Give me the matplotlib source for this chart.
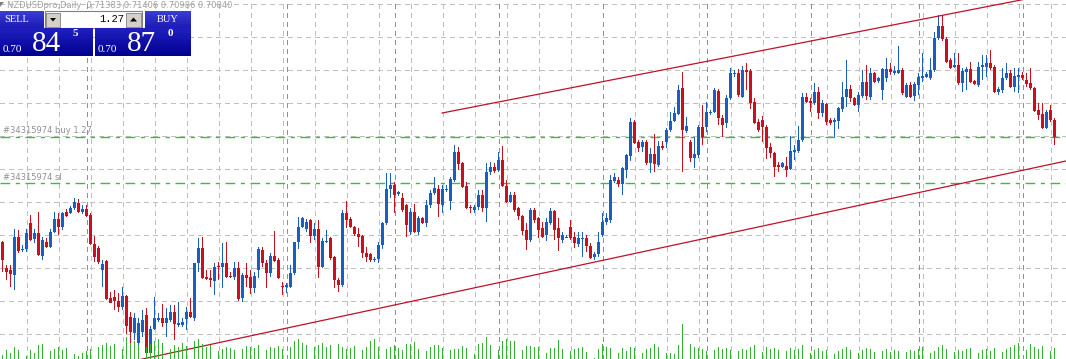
import matplotlib
matplotlib.use("Agg")
import matplotlib.pyplot as plt
import numpy as np
from matplotlib.patches import Rectangle, Polygon
from matplotlib.colors import LinearSegmentedColormap

# NZDUSD daily bars, oldest first
opens = [0.6775, 0.6697, 0.6690, 0.6675, 0.6790, 0.6749, 0.6753, 0.6831, 0.6783, 0.6801,
         0.6732, 0.6774, 0.6759, 0.6804, 0.6843, 0.6819, 0.6864, 0.6861, 0.6876, 0.6891,
         0.6864, 0.6873, 0.6855, 0.6768, 0.6756, 0.6690, 0.6717, 0.6606, 0.6609, 0.6597,
         0.6579, 0.6612, 0.6549, 0.6501, 0.6471, 0.6504, 0.6555, 0.6441, 0.6513, 0.6540,
         0.6546, 0.6531, 0.6540, 0.6564, 0.6525, 0.6525, 0.6543, 0.6564, 0.6546, 0.6711,
         0.6756, 0.6669, 0.6666, 0.6657, 0.6702, 0.6699, 0.6711, 0.6672, 0.6669, 0.6696,
         0.6606, 0.6675, 0.6669, 0.6636, 0.6690, 0.6750, 0.6711, 0.6681, 0.6732, 0.6720,
         0.6642, 0.6639, 0.6639, 0.6681, 0.6774, 0.6819, 0.6813, 0.6840, 0.6792, 0.6813,
         0.6699, 0.6774, 0.6786, 0.6729, 0.6660, 0.6645, 0.6861, 0.6843, 0.6819, 0.6798,
         0.6792, 0.6741, 0.6738, 0.6720, 0.6723, 0.6765, 0.6831, 0.6933, 0.6945, 0.6918,
         0.6906, 0.6885, 0.6804, 0.6864, 0.6804, 0.6846, 0.6831, 0.6885, 0.6921, 0.6933,
         0.6885, 0.6930, 0.6897, 0.6960, 0.7044, 0.7011, 0.6942, 0.6879, 0.6870, 0.6879,
         0.6915, 0.6876, 0.6984, 0.6999, 0.6990, 0.7020, 0.6942, 0.6894, 0.6915, 0.6876,
         0.6852, 0.6810, 0.6780, 0.6870, 0.6846, 0.6816, 0.6795, 0.6831, 0.6867, 0.6816,
         0.6780, 0.6786, 0.6819, 0.6789, 0.6768, 0.6783, 0.6786, 0.6762, 0.6729, 0.6738,
         0.6795, 0.6834, 0.6840, 0.6957, 0.6960, 0.6948, 0.6990, 0.7032, 0.7134, 0.7074,
         0.7059, 0.7074, 0.7011, 0.7038, 0.7005, 0.7062, 0.7074, 0.7110, 0.7137, 0.7158,
         0.7236, 0.7107, 0.7074, 0.7026, 0.7035, 0.7119, 0.7119, 0.7161, 0.7164, 0.7227,
         0.7146, 0.7131, 0.7206, 0.7278, 0.7281, 0.7209, 0.7290, 0.7287, 0.7194, 0.7134,
         0.7140, 0.7119, 0.7059, 0.7041, 0.7005, 0.6999, 0.7002, 0.6993, 0.7044, 0.7047,
         0.7080, 0.7209, 0.7197, 0.7191, 0.7224, 0.7161, 0.7188, 0.7140, 0.7134, 0.7137,
         0.7173, 0.7209, 0.7233, 0.7206, 0.7185, 0.7212, 0.7254, 0.7209, 0.7281, 0.7257,
         0.7230, 0.7266, 0.7293, 0.7281, 0.7281, 0.7290, 0.7209, 0.7245, 0.7212, 0.7245,
         0.7266, 0.7269, 0.7266, 0.7290, 0.7386, 0.7422, 0.7383, 0.7320, 0.7299, 0.7305,
         0.7251, 0.7284, 0.7293, 0.7257, 0.7245, 0.7299, 0.7299, 0.7311, 0.7299, 0.7224,
         0.7230, 0.7266, 0.7281, 0.7239, 0.7269, 0.7275, 0.7260, 0.7251, 0.7236, 0.7170,
         0.7158, 0.7116, 0.7170, 0.7140]
highs = [0.6777, 0.6705, 0.6705, 0.6813, 0.6810, 0.6765, 0.6813, 0.6855, 0.6813, 0.6864,
         0.6789, 0.6786, 0.6813, 0.6864, 0.6861, 0.6864, 0.6873, 0.6882, 0.6906, 0.6903,
         0.6885, 0.6885, 0.6861, 0.6792, 0.6762, 0.6720, 0.6720, 0.6624, 0.6630, 0.6621,
         0.6639, 0.6615, 0.6564, 0.6561, 0.6546, 0.6570, 0.6576, 0.6522, 0.6609, 0.6561,
         0.6588, 0.6576, 0.6585, 0.6585, 0.6594, 0.6546, 0.6579, 0.6606, 0.6711, 0.6786,
         0.6789, 0.6690, 0.6690, 0.6711, 0.6714, 0.6771, 0.6774, 0.6684, 0.6714, 0.6714,
         0.6681, 0.6711, 0.6690, 0.6684, 0.6759, 0.6759, 0.6720, 0.6741, 0.6807, 0.6726,
         0.6654, 0.6651, 0.6705, 0.6774, 0.6849, 0.6849, 0.6843, 0.6843, 0.6831, 0.6840,
         0.6786, 0.6810, 0.6789, 0.6732, 0.6666, 0.6870, 0.6897, 0.6849, 0.6822, 0.6816,
         0.6795, 0.6759, 0.6741, 0.6729, 0.6774, 0.6834, 0.6981, 0.6981, 0.6954, 0.6927,
         0.6921, 0.6888, 0.6876, 0.6888, 0.6852, 0.6849, 0.6900, 0.6930, 0.6969, 0.6945,
         0.6945, 0.6945, 0.6969, 0.7065, 0.7059, 0.7014, 0.6954, 0.6885, 0.6885, 0.6930,
         0.6930, 0.7011, 0.7014, 0.7011, 0.7044, 0.7062, 0.6960, 0.6924, 0.6924, 0.6879,
         0.6855, 0.6831, 0.6876, 0.6876, 0.6849, 0.6834, 0.6846, 0.6876, 0.6870, 0.6846,
         0.6804, 0.6795, 0.6840, 0.6804, 0.6804, 0.6804, 0.6795, 0.6771, 0.6744, 0.6804,
         0.6861, 0.6861, 0.6975, 0.6981, 0.6969, 0.6999, 0.7038, 0.7146, 0.7140, 0.7080,
         0.7080, 0.7080, 0.7056, 0.7098, 0.7077, 0.7077, 0.7116, 0.7164, 0.7179, 0.7245,
         0.7284, 0.7149, 0.7080, 0.7089, 0.7125, 0.7185, 0.7194, 0.7170, 0.7236, 0.7233,
         0.7155, 0.7215, 0.7296, 0.7290, 0.7293, 0.7302, 0.7311, 0.7293, 0.7206, 0.7143,
         0.7152, 0.7125, 0.7071, 0.7044, 0.7014, 0.7014, 0.7029, 0.7092, 0.7065, 0.7122,
         0.7221, 0.7221, 0.7206, 0.7251, 0.7239, 0.7200, 0.7191, 0.7146, 0.7146, 0.7179,
         0.7254, 0.7320, 0.7245, 0.7209, 0.7224, 0.7290, 0.7305, 0.7296, 0.7284, 0.7269,
         0.7296, 0.7326, 0.7311, 0.7302, 0.7362, 0.7296, 0.7251, 0.7254, 0.7254, 0.7281,
         0.7341, 0.7284, 0.7326, 0.7404, 0.7455, 0.7455, 0.7389, 0.7326, 0.7341, 0.7341,
         0.7296, 0.7299, 0.7314, 0.7260, 0.7314, 0.7335, 0.7335, 0.7350, 0.7305, 0.7239,
         0.7296, 0.7311, 0.7290, 0.7296, 0.7296, 0.7284, 0.7281, 0.7296, 0.7239, 0.7191,
         0.7191, 0.7170, 0.7185, 0.7146]
lows = [0.6685, 0.6660, 0.6639, 0.6630, 0.6741, 0.6744, 0.6744, 0.6777, 0.6771, 0.6732,
        0.6720, 0.6756, 0.6756, 0.6801, 0.6795, 0.6810, 0.6849, 0.6858, 0.6870, 0.6861,
        0.6858, 0.6849, 0.6765, 0.6714, 0.6708, 0.6639, 0.6600, 0.6591, 0.6570, 0.6564,
        0.6570, 0.6498, 0.6450, 0.6480, 0.6465, 0.6489, 0.6423, 0.6432, 0.6510, 0.6534,
        0.6519, 0.6489, 0.6534, 0.6480, 0.6519, 0.6519, 0.6510, 0.6546, 0.6537, 0.6684,
        0.6663, 0.6660, 0.6639, 0.6615, 0.6660, 0.6636, 0.6666, 0.6666, 0.6660, 0.6597,
        0.6594, 0.6639, 0.6618, 0.6621, 0.6666, 0.6699, 0.6636, 0.6669, 0.6714, 0.6663,
        0.6615, 0.6621, 0.6636, 0.6675, 0.6753, 0.6816, 0.6804, 0.6771, 0.6780, 0.6666,
        0.6696, 0.6771, 0.6720, 0.6636, 0.6624, 0.6639, 0.6816, 0.6816, 0.6792, 0.6759,
        0.6726, 0.6714, 0.6714, 0.6714, 0.6711, 0.6753, 0.6825, 0.6906, 0.6861, 0.6912,
        0.6864, 0.6789, 0.6795, 0.6801, 0.6795, 0.6828, 0.6819, 0.6876, 0.6915, 0.6849,
        0.6861, 0.6924, 0.6870, 0.6954, 0.6990, 0.6936, 0.6873, 0.6861, 0.6861, 0.6870,
        0.6864, 0.6834, 0.6975, 0.6981, 0.6984, 0.6939, 0.6891, 0.6891, 0.6864, 0.6840,
        0.6795, 0.6750, 0.6774, 0.6831, 0.6786, 0.6786, 0.6777, 0.6825, 0.6780, 0.6747,
        0.6771, 0.6786, 0.6780, 0.6756, 0.6759, 0.6729, 0.6744, 0.6723, 0.6720, 0.6729,
        0.6789, 0.6825, 0.6831, 0.6951, 0.6939, 0.6915, 0.6966, 0.7017, 0.7068, 0.7044,
        0.7044, 0.7005, 0.6981, 0.6984, 0.6999, 0.7050, 0.7056, 0.7104, 0.7134, 0.7155,
        0.6984, 0.7101, 0.7014, 0.6996, 0.7026, 0.7065, 0.7104, 0.7155, 0.7161, 0.7125,
        0.7089, 0.7116, 0.7200, 0.7269, 0.7209, 0.7206, 0.7230, 0.7173, 0.7128, 0.7104,
        0.7074, 0.7023, 0.7026, 0.6969, 0.6984, 0.6996, 0.6969, 0.6990, 0.7020, 0.7041,
        0.7074, 0.7191, 0.7164, 0.7185, 0.7143, 0.7149, 0.7125, 0.7125, 0.7089, 0.7113,
        0.7164, 0.7179, 0.7194, 0.7182, 0.7164, 0.7206, 0.7200, 0.7200, 0.7251, 0.7251,
        0.7200, 0.7254, 0.7275, 0.7275, 0.7278, 0.7215, 0.7206, 0.7206, 0.7197, 0.7215,
        0.7254, 0.7266, 0.7260, 0.7284, 0.7380, 0.7377, 0.7311, 0.7293, 0.7296, 0.7245,
        0.7224, 0.7230, 0.7251, 0.7245, 0.7239, 0.7260, 0.7269, 0.7290, 0.7221, 0.7215,
        0.7221, 0.7260, 0.7236, 0.7224, 0.7221, 0.7260, 0.7239, 0.7230, 0.7164, 0.7140,
        0.7113, 0.7113, 0.7134, 0.7065]
closes = [0.6720, 0.6685, 0.6678, 0.6790, 0.6747, 0.6752, 0.6801, 0.6780, 0.6801, 0.6735,
          0.6780, 0.6759, 0.6804, 0.6843, 0.6819, 0.6861, 0.6852, 0.6876, 0.6894, 0.6864,
          0.6873, 0.6852, 0.6768, 0.6729, 0.6714, 0.6708, 0.6603, 0.6591, 0.6597, 0.6579,
          0.6612, 0.6522, 0.6504, 0.6546, 0.6531, 0.6540, 0.6441, 0.6513, 0.6546, 0.6546,
          0.6531, 0.6546, 0.6564, 0.6528, 0.6531, 0.6534, 0.6564, 0.6549, 0.6711, 0.6756,
          0.6666, 0.6663, 0.6660, 0.6699, 0.6699, 0.6711, 0.6669, 0.6669, 0.6696, 0.6603,
          0.6675, 0.6666, 0.6636, 0.6672, 0.6753, 0.6711, 0.6681, 0.6732, 0.6717, 0.6666,
          0.6639, 0.6645, 0.6681, 0.6774, 0.6819, 0.6846, 0.6834, 0.6792, 0.6813, 0.6699,
          0.6777, 0.6777, 0.6726, 0.6660, 0.6645, 0.6861, 0.6840, 0.6819, 0.6798, 0.6789,
          0.6741, 0.6729, 0.6720, 0.6723, 0.6765, 0.6831, 0.6933, 0.6945, 0.6915, 0.6924,
          0.6870, 0.6825, 0.6864, 0.6804, 0.6846, 0.6831, 0.6885, 0.6921, 0.6936, 0.6888,
          0.6933, 0.6933, 0.6963, 0.7044, 0.7008, 0.6939, 0.6876, 0.6876, 0.6879, 0.6915,
          0.6876, 0.6984, 0.6999, 0.6987, 0.7020, 0.6942, 0.6894, 0.6915, 0.6870, 0.6852,
          0.6807, 0.6780, 0.6870, 0.6840, 0.6810, 0.6789, 0.6834, 0.6867, 0.6810, 0.6786,
          0.6795, 0.6789, 0.6786, 0.6771, 0.6786, 0.6786, 0.6762, 0.6726, 0.6738, 0.6774,
          0.6834, 0.6846, 0.6960, 0.6969, 0.6948, 0.6996, 0.7035, 0.7134, 0.7071, 0.7056,
          0.7074, 0.7011, 0.7038, 0.7008, 0.7062, 0.7056, 0.7110, 0.7137, 0.7161, 0.7230,
          0.7110, 0.7122, 0.7026, 0.7038, 0.7119, 0.7089, 0.7164, 0.7164, 0.7230, 0.7146,
          0.7125, 0.7206, 0.7281, 0.7281, 0.7215, 0.7290, 0.7284, 0.7191, 0.7131, 0.7110,
          0.7119, 0.7056, 0.7041, 0.6999, 0.6999, 0.7011, 0.6990, 0.7047, 0.7050, 0.7080,
          0.7209, 0.7194, 0.7191, 0.7224, 0.7161, 0.7191, 0.7134, 0.7131, 0.7140, 0.7176,
          0.7209, 0.7233, 0.7206, 0.7185, 0.7215, 0.7254, 0.7212, 0.7281, 0.7254, 0.7266,
          0.7293, 0.7293, 0.7284, 0.7287, 0.7290, 0.7221, 0.7245, 0.7209, 0.7248, 0.7269,
          0.7272, 0.7278, 0.7290, 0.7386, 0.7422, 0.7383, 0.7314, 0.7296, 0.7305, 0.7251,
          0.7287, 0.7293, 0.7254, 0.7248, 0.7299, 0.7305, 0.7311, 0.7296, 0.7224, 0.7233,
          0.7266, 0.7281, 0.7239, 0.7272, 0.7275, 0.7266, 0.7248, 0.7236, 0.7167, 0.7155,
          0.7116, 0.7164, 0.7140, 0.7089]
# tick volume (thousands)
volumes = [4, 9, 6, 12, 9, 0, 3, 9, 6, 14, 15, 0, 8, 10, 12, 9, 11, 0, 5, 3,
           6, 8, 10, 0, 12, 14, 16, 13, 15, 0, 10, 22, 16, 18, 14, 0, 12, 15, 18, 20,
           16, 0, 10, 14, 12, 16, 13, 0, 18, 20, 15, 12, 14, 0, 8, 10, 12, 11, 9, 0,
           10, 13, 12, 11, 14, 0, 9, 12, 11, 13, 10, 0, 12, 18, 20, 16, 14, 0, 12, 14,
           16, 12, 14, 0, 15, 12, 10, 11, 13, 0, 9, 12, 18, 20, 12, 0, 10, 12, 14, 11,
           9, 15, 15, 17, 10, 0, 8, 12, 14, 14, 11, 0, 9, 10, 10, 13, 11, 0, 5, 15,
           16, 22, 14, 0, 9, 18, 20, 18, 18, 0, 9, 13, 13, 12, 12, 0, 6, 11, 11, 19,
           10, 0, 8, 10, 11, 12, 7, 0, 1, 10, 15, 12, 11, 0, 6, 11, 8, 12, 11, 0,
           6, 10, 11, 15, 12, 0, 6, 6, 5, 14, 35, 0, 15, 12, 11, 10, 8, 0, 9, 12,
           10, 11, 9, 0, 8, 10, 9, 12, 14, 0, 7, 12, 10, 11, 9, 0, 8, 11, 9, 10,
           14, 0, 6, 9, 11, 8, 9, 0, 5, 8, 10, 12, 9, 0, 6, 9, 11, 10, 7, 0,
           8, 10, 7, 9, 8, 0, 7, 9, 8, 10, 12, 0, 6, 8, 12, 14, 10, 0, 7, 9,
           8, 10, 11, 0, 6, 9, 10, 8, 11, 0, 7, 10, 12, 14, 16, 0, 9, 15, 12, 10,
           13, 0, 8, 11]

buy_level = 0.7090
sl_level = 0.6951
order_ticket = "#34315974"
upper_channel_idx = [109.9, 254.6]
upper_channel_px = [0.7161, 0.7500]
lower_channel_idx = [43.2, 264.7]
lower_channel_px = [0.6444, 0.7014]
grid_prices = [0.6498, 0.6597, 0.6696, 0.6795, 0.6894, 0.6993, 0.7092, 0.7191, 0.7290, 0.7389, 0.7488]
grid_bars = [6, 14, 22, 30, 38, 46, 54, 62, 70, 78, 86, 94, 102, 110, 118, 126, 134,
             142, 150, 158, 166, 174, 182, 190, 198, 206, 214, 222, 230, 238, 246, 254, 262]
separator_bars = [21, 71, 98, 124, 150, 176, 202, 229, 255]

BULL = "#1a5fbf"
BEAR = "#c8101e"
VOL = "#32b432"
ORDER = "#3cbe3c"
GRID = "#c0c0c0"
GLW = 0.6  # grid line width (no antialiasing)

W, H = 1066, 359
fig = plt.figure(figsize=(W / 100, H / 100), dpi=100)
ax = fig.add_axes([0, 0, 1, 1])
# bar i centred on pixel column 2 + 4i
ax.set_xlim(-0.625, -0.625 + W / 4)
ax.set_ylim(0.6423, 0.7500)
ax.axis("off")

# grid
for p in grid_prices:
    ax.axhline(p, color=GRID, lw=GLW, ls=(0, (5, 5)), zorder=0, antialiased=False)
for b in grid_bars:
    ax.axvline(b, color=GRID, lw=GLW, ls=(0, (5, 5)), zorder=0, antialiased=False)
for b in separator_bars:
    ax.axvline(b, color="#909090", lw=GLW, ls=(0, (5, 5)), zorder=0, antialiased=False)

# volumes on their own scale, one-pixel bars
axv = ax.twinx()
axv.set_ylim(0, 359)
axv.axis("off")
idx = np.arange(len(closes))
axv.bar(idx, volumes, width=0.3, color=VOL, lw=0, antialiased=False)

# candles: wick and body
o = np.array(opens)
c = np.array(closes)
hi = np.array(highs)
lo = np.array(lows)
up = c >= o
colors = np.where(up, BULL, BEAR)
ax.bar(idx, hi - lo, bottom=lo, width=0.3, color=colors, lw=0, zorder=3, antialiased=False)
body_lo = np.minimum(o, c)
body_h = np.maximum(np.abs(c - o), 0.0003)
ax.bar(idx, body_h, bottom=body_lo, width=0.7, color=colors, lw=0, zorder=4,
       antialiased=False)

# order lines
ax.axhline(buy_level, color=ORDER, lw=1.0, ls=(0, (7, 4, 3, 4)), zorder=2)
ax.axhline(sl_level, color=ORDER, lw=1.0, ls=(0, (7, 4, 3, 4)), zorder=2)
ax.text(0.0, buy_level + 0.0004, order_ticket + " buy 1.27", color="#909090",
        fontsize=6.0, va="bottom", ha="left", zorder=5)
ax.text(0.0, sl_level + 0.0004, order_ticket + " sl", color="#909090",
        fontsize=6.0, va="bottom", ha="left", zorder=5)

# channel lines (rays)
x_start, x_end = ax.get_xlim()
s_up = (upper_channel_px[1] - upper_channel_px[0]) / (upper_channel_idx[1] - upper_channel_idx[0])
ax.plot([upper_channel_idx[0], x_end],
        [upper_channel_px[0], upper_channel_px[0] + s_up * (x_end - upper_channel_idx[0])],
        color="#c0102a", lw=0.9, zorder=5)
s_lo = (lower_channel_px[1] - lower_channel_px[0]) / (lower_channel_idx[1] - lower_channel_idx[0])
ax.plot([x_start, x_end],
        [lower_channel_px[0] + s_lo * (x_start - lower_channel_idx[0]),
         lower_channel_px[0] + s_lo * (x_end - lower_channel_idx[0])],
        color="#c0102a", lw=0.9, zorder=5)

# one-click trading panel (screen overlay, pixel coords)
ui = fig.add_axes([0, 0, 1, 1], zorder=10)
ui.set_xlim(0, W)
ui.set_ylim(H, 0)
ui.axis("off")
ui.patch.set_alpha(0)

ui.text(7, 5, "NZDUSDpro,Daily  0.71383 0.71406 0.70986 0.70840", color="#a0a0a0",
        fontsize=6.0, va="center", ha="left")
ui.add_patch(Polygon([[0, 2], [4, 2], [0, 7]], closed=True, fc="#808080", ec="none"))

grad = np.linspace(0, 1, 50).reshape(-1, 1)
btn_cmap = LinearSegmentedColormap.from_list("btn", ["#3c3cd8", "#1c1cb4"])
pan_cmap = LinearSegmentedColormap.from_list("pan", ["#2020c0", "#000090"])

for x0, x1, label, lx in [(0, 44, "SELL", 17), (145, 191, "BUY", 168)]:
    ui.imshow(grad, extent=(x0, x1, 28, 11), cmap=btn_cmap, aspect="auto", zorder=1)
    ui.text(lx, 19.5, label, color="white", fontsize=7.5, family="Liberation Serif",
            ha="center", va="center", zorder=3)

ui.add_patch(Rectangle((45, 11), 97, 17, fc="white", ec="#808080", lw=0.8, zorder=1))
ui.add_patch(Rectangle((46, 12.5), 14, 14, fc="#d4d0c8", ec="#808080", lw=0.6, zorder=2))
ui.add_patch(Rectangle((126, 12.5), 15, 14, fc="#d4d0c8", ec="#808080", lw=0.6, zorder=2))
ui.add_patch(Polygon([[50, 18], [56, 18], [53, 21.5]], closed=True, fc="black", zorder=3))
ui.add_patch(Polygon([[130, 21.5], [137, 21.5], [133.5, 17.5]], closed=True, fc="black", zorder=3))
ui.text(124, 19.5, "1.27", color="black", fontsize=7.5, family="Liberation Mono",
        ha="right", va="center", zorder=3)

for x0, x1, big, sup in [(0, 93, "84", "5"), (95, 191, "87", "0")]:
    ui.imshow(grad, extent=(x0, x1, 56, 28), cmap=pan_cmap, aspect="auto", zorder=1)
    ui.text(x0 + 3, 54, "0.70", color="white", fontsize=8, family="Liberation Serif",
            ha="left", va="bottom", zorder=3)
    ui.text(x0 + 32, 57, big, color="white", fontsize=21, family="Liberation Serif",
            ha="left", va="bottom", zorder=3)
    ui.text(x0 + 73, 29, sup, color="white", fontsize=8, family="Liberation Serif",
            fontweight="bold", ha="left", va="top", zorder=3)

fig.savefig("out.png", dpi=100)
